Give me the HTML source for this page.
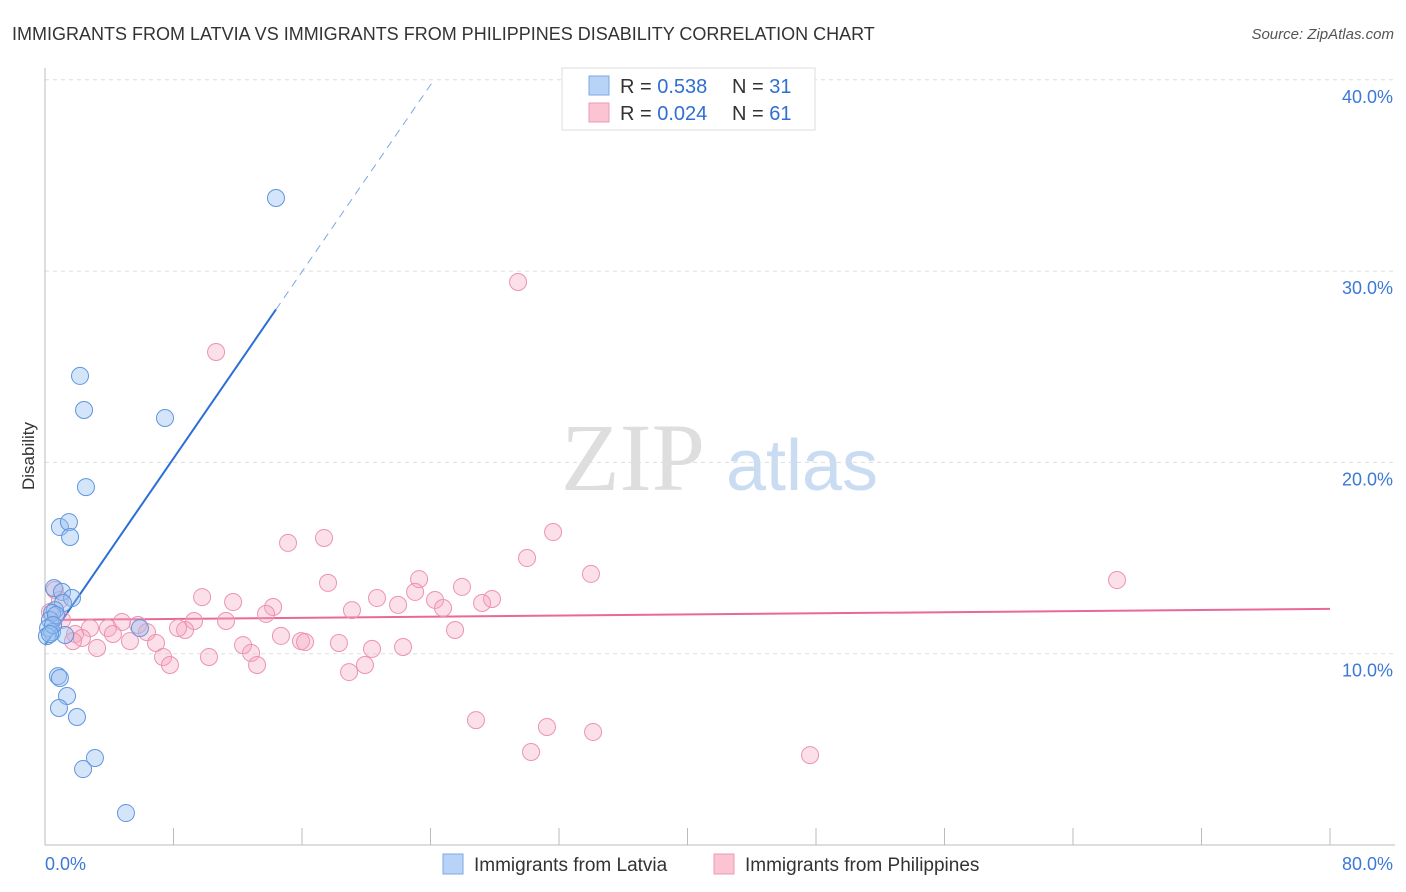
<!DOCTYPE html>
<html><head><meta charset="utf-8"><style>
body{margin:0;background:#fff;font-family:"Liberation Sans",sans-serif;}
svg{display:block}
</style></head><body>
<svg id="chart" width="1406" height="892">
<text x="12" y="40" font-size="18" fill="#333">IMMIGRANTS FROM LATVIA VS IMMIGRANTS FROM PHILIPPINES DISABILITY CORRELATION CHART</text>
<text x="1394" y="39" font-size="15" fill="#555" font-style="italic" text-anchor="end">Source: ZipAtlas.com</text>
<text x="34" y="456" font-size="17" fill="#333" text-anchor="middle" transform="rotate(-90 34 456)">Disability</text>
<g>
<text x="633" y="490" font-size="96" font-family="Liberation Serif,serif" fill="#dedede" text-anchor="middle">ZIP</text>
<text x="802" y="490" font-size="72" fill="#c9dcf2" text-anchor="middle">atlas</text>
</g>
<g id="grid"></g>
<g id="axes"></g>
<g id="lines"></g>
<g id="points"></g>
<g>
<rect x="562" y="68" width="253" height="62" fill="#fff" stroke="#ddd"/>
<rect x="589" y="76" width="20" height="19" fill="#b8d3f5" stroke="#7aa8e6"/>
<rect x="589" y="103" width="20" height="19" fill="#fac4d3" stroke="#ee9ab4"/>
<text x="620" y="93" font-size="20" fill="#333">R = <tspan fill="#2f6fd0">0.538</tspan><tspan x="732">N = </tspan><tspan fill="#2f6fd0">31</tspan></text>
<text x="620" y="120" font-size="20" fill="#333">R = <tspan fill="#2f6fd0">0.024</tspan><tspan x="732">N = </tspan><tspan fill="#2f6fd0">61</tspan></text>
</g>
<g>
<rect x="443" y="854" width="20" height="20" fill="#b8d3f5" stroke="#7aa8e6"/>
<text x="474" y="871" font-size="19" fill="#333">Immigrants from Latvia</text>
<rect x="714" y="854" width="20" height="20" fill="#fac4d3" stroke="#ee9ab4"/>
<text x="745" y="871" font-size="19" fill="#333">Immigrants from Philippines</text>
</g>
</svg>
<script>
const latviaX=[14.38,2.18,2.43,7.47,2.55,0.93,1.49,1.56,0.56,1.06,1.68,1.12,0.62,0.44,0.31,0.19,0.44,0.12,1.25,5.91,0.81,0.93,1.37,0.87,1.99,3.11,2.37,5.04,0.68,0.50,0.31];
const latviaY=[33.82,24.52,22.74,22.32,18.71,16.62,16.88,16.10,13.43,13.23,12.91,12.65,12.28,12.13,11.76,11.34,11.13,10.92,10.98,11.34,8.83,8.73,7.79,7.16,6.69,4.55,3.97,1.67,12.02,11.50,11.03];
const philX=[29.45,10.65,31.63,17.37,15.13,30.01,33.99,66.74,17.62,23.29,25.96,9.78,20.67,23.04,27.83,24.28,27.21,11.71,14.20,24.78,19.11,21.98,13.76,4.79,11.27,9.28,5.79,3.92,8.72,2.80,8.28,6.35,25.53,4.23,14.69,1.87,2.30,1.74,5.29,6.91,12.33,15.94,16.19,18.30,3.24,12.83,20.36,22.29,7.35,10.21,7.78,13.20,19.92,18.93,26.83,31.25,34.12,30.26,47.63,0.62,0.93,0.31,1.06];
const philY=[29.43,25.77,16.36,16.05,15.79,15.00,14.17,13.85,13.70,13.90,13.49,12.96,12.91,13.23,12.86,12.81,12.65,12.70,12.44,12.39,12.28,12.55,12.08,11.66,11.71,11.71,11.50,11.34,11.24,11.34,11.34,11.13,11.24,11.03,10.93,11.03,10.82,10.66,10.66,10.56,10.45,10.66,10.61,10.56,10.30,10.04,10.25,10.35,9.83,9.83,9.41,9.41,9.41,9.04,6.53,6.17,5.91,4.86,4.70,13.33,12.81,12.18,11.76];
const latviaFit=[10.45,1.22]; // intercept, slope
const philFit=[11.76,0.0073];
const yTicks=[10,20,30,40];
const yTickLabels=["10.0%","20.0%","30.0%","40.0%"];
const xTicks=[0,8,16,24,32,40,48,56,64,72,80];
const xEdgeLabels=["0.0%","80.0%"];

const NS="http://www.w3.org/2000/svg";
const X=v=>45+v*(1285/80);
const Y=v=>845-v*19.13;
function mk(tag,attrs,parent){const e=document.createElementNS(NS,tag);for(const k in attrs)e.setAttribute(k,attrs[k]);parent.appendChild(e);return e;}
const grid=document.getElementById('grid'),axes=document.getElementById('axes'),lines=document.getElementById('lines'),pts=document.getElementById('points');
yTicks.forEach((t,i)=>{
  const l=mk('line',{x1:45,x2:1395,y1:Y(t),y2:Y(t),stroke:'#ddd','stroke-dasharray':'4,4'},grid);
  
  
  const tx=mk('text',{x:1393,y:Y(t)+23,'font-size':18,fill:'#3b78d8','text-anchor':'end'},axes);
  tx.textContent=yTickLabels[i];
  
  
});
const ya=mk('line',{x1:45,x2:45,y1:68,y2:845,stroke:'#bbb'},axes);


const xa=mk('line',{x1:45,x2:1395,y1:845,y2:845,stroke:'#bbb'},axes);


xTicks.forEach(t=>{
  const l=mk('line',{x1:X(t),x2:X(t),y1:828,y2:845,stroke:'#bbb'},axes);
  
  
});
const xl0=mk('text',{x:45,y:870,'font-size':18,fill:'#3b78d8'},axes);xl0.textContent=xEdgeLabels[0];


const xl1=mk('text',{x:1393,y:870,'font-size':18,fill:'#3b78d8','text-anchor':'end'},axes);xl1.textContent=xEdgeLabels[1];



function drawPts(xs,ys,fill,stroke,name){
  xs.forEach((x,i)=>{
    const c=mk('circle',{cx:X(x),cy:Y(ys[i]),r:8.5,fill:fill,stroke:stroke,'stroke-width':1},pts);
    
    
  });
}
drawPts(philX,philY,'rgba(245,165,192,0.35)','#ec93b0','point-philippines');
drawPts(latviaX,latviaY,'rgba(150,190,240,0.4)','#5f96df','point-latvia');

// trend lines
const maxLX=Math.max(...latviaX);
const l1=mk('line',{x1:X(0),y1:Y(latviaFit[0]),x2:X(maxLX),y2:Y(latviaFit[0]+latviaFit[1]*maxLX),stroke:'#2a6fd6','stroke-width':2},lines);


const xEnd=(40-latviaFit[0])/latviaFit[1];
const l2=mk('line',{x1:X(maxLX),y1:Y(latviaFit[0]+latviaFit[1]*maxLX),x2:X(xEnd),y2:Y(40),stroke:'#7aa8e6','stroke-width':1,'stroke-dasharray':'8,6'},lines);


const l3=mk('line',{x1:X(0),y1:Y(philFit[0]),x2:X(80),y2:Y(philFit[0]+philFit[1]*80),stroke:'#e8689a','stroke-width':2},lines);


</script>
</body></html>
